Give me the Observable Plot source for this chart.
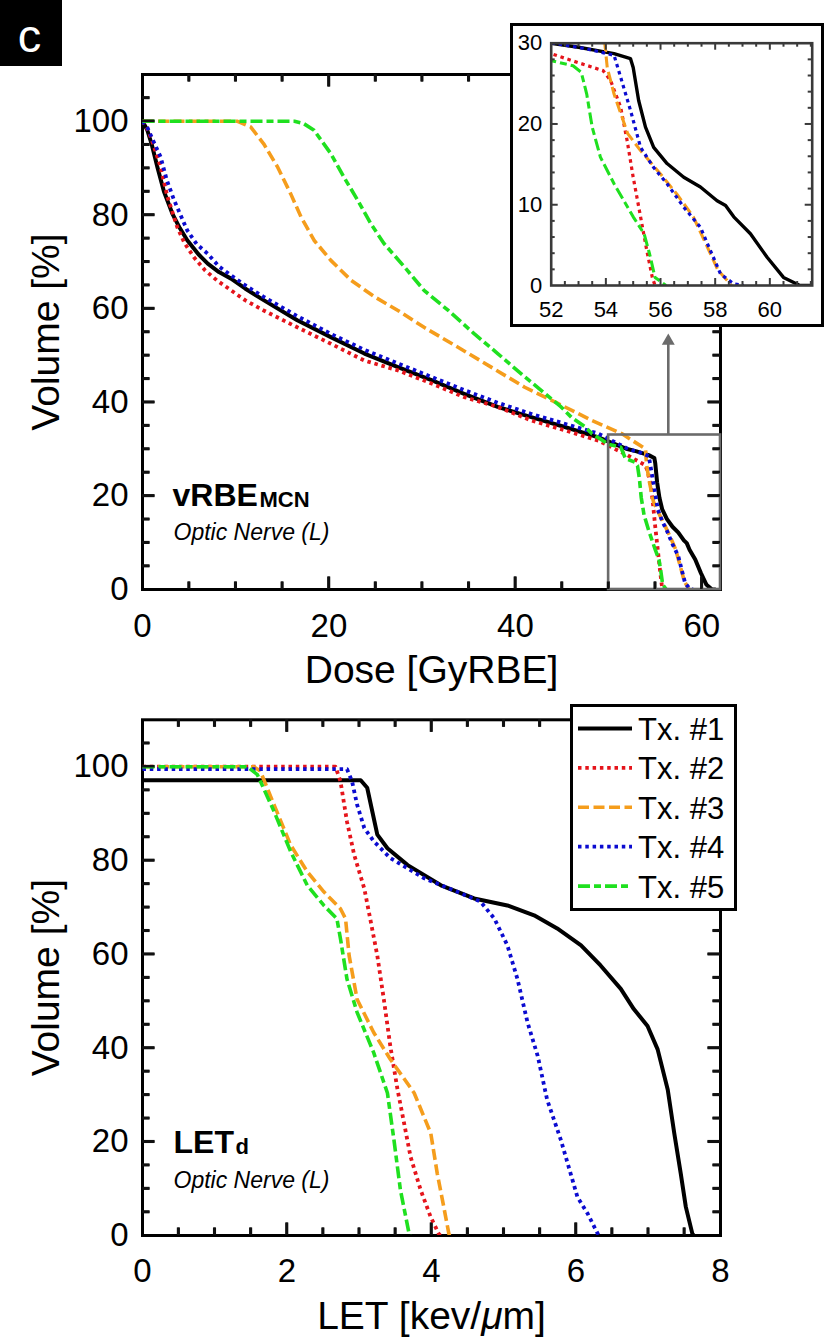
<!DOCTYPE html>
<html><head><meta charset="utf-8">
<script src="https://cdn.jsdelivr.net/npm/d3@7"></script>
<script src="https://cdn.jsdelivr.net/npm/@observablehq/plot@0.6"></script>
</head><body style="margin:0"><div id="root" style="position:relative;width:831px;height:1337px"></div>
<script>
const FONT = '"Liberation Sans", Arial, Helvetica, sans-serif';

// ---- series meta
const seriesNames = ["Tx. #1", "Tx. #2", "Tx. #3", "Tx. #4", "Tx. #5"];
const seriesColors = ["#000000", "#e5141b", "#f59d1c", "#0b0bd0", "#1fe01f"];
const seriesDash = [null, "3.5,3.8", "11,4.5", "3.5,3.8", "12,4,7,4"];
const seriesWidth = [4, 3.8, 3.6, 3.8, 3.6];

// ---- Dose-volume (vRBE_MCN), dose in GyRBE, volume in %
const doseTx1 = [0,0.5,1.0,1.6,2.3,3.2,4.0,4.8,6.0,7.0,8.2,9.5,11,13,16.6,20.2,23.8,27.4,31,34.5,38.1,41.7,45.3,48.9,52,53,54.3,54.9,55.0,55.2,55.45,55.75,56.24,56.85,57.46,58.07,58.38,58.68,59.29,59.9,60.5,61.1,61.5];
const volDoseTx1 = [100,98.2,95,90.2,85,80.3,77.2,74.6,71.6,69.6,67.8,66.4,64.3,61.8,57.5,53.9,50.4,47.5,44.7,41.8,39.0,36.8,34.7,32.5,30,29.5,28.7,28.1,27.0,22.9,19.6,17.1,15.1,13.4,12.2,10.5,9.9,8.5,6.4,3.5,1.0,0,0];
const doseTx2 = [0,0.5,1.0,1.9,2.66,3.73,4.5,5.5,6.7,8.0,9.5,11,13,16.6,20.2,23.8,27.4,31,34.5,38.1,41.7,45.3,48.9,52,52.8,53.9,54.17,54.54,54.78,55.0,55.27,55.5,55.7,55.8];
const volDoseTx2 = [100,98.5,96,90.5,84.0,77.4,74,71,68.2,66,63.9,61.8,59.6,56.0,52.5,48.9,46.8,44.0,41.1,39.0,36.1,34.0,31.8,28.7,27.8,26.6,25.4,22.1,17.9,13.4,8.5,4.3,1.0,0];
const doseTx3 = [0,10.2,11.6,13.0,14.5,15.9,17.0,18.4,20.2,22.4,24.9,27.4,30.2,33.8,37.4,41.0,44.6,48.2,51.4,53.96,54.05,54.3,54.8,55.27,56.0,56.6,57.2,57.6,58.1,58.6];
const volDoseTx3 = [100,100,98.8,95.2,90.2,84.5,79.6,74.6,70.3,66.0,62.5,59.6,56.0,51.8,47.5,43.2,39.7,36.1,33.3,30,27,23.7,18.8,16.7,13.8,11.3,8.5,5.6,1.9,0];
const doseTx4 = [0,0.5,1.0,1.94,2.6,3.4,4.8,5.8,7.0,8.2,9.5,11,13,16.6,20.2,23.8,27.4,31,34.5,38.1,41.7,45.3,48.9,52.1,53.3,54.3,54.54,54.9,55.27,55.75,56.24,56.85,57.46,57.83,58.2,58.68,59.05];
const volDoseTx4 = [100,98.8,96.5,92.4,87.5,83.1,76.7,73.8,71.7,69,67.1,65,62.5,58.4,54.6,51.2,48.3,45.4,42.6,39.9,37.5,35.4,33.3,30,29.3,28.5,25.8,21.7,17.1,14.6,12.6,9.7,7.2,4.3,1.4,0.2,0];
const doseTx5 = [0,16.3,17.3,18.4,20.2,21.6,23.1,24.5,25.9,28.1,30.2,32.8,35.6,38.1,40.6,43.2,44.9,46.0,47.5,48.2,50,51.3,51.8,52.8,53.1,53.3,53.5,53.8,54.3,55.0,55.4,55.6,55.8,56.2];
const volDoseTx5 = [100,100,99.5,98.1,93.1,88.1,83.1,78.1,73.9,68.9,63.9,59.6,54.6,50.4,46.1,41.8,39.0,36.8,34.7,33.3,31,30.4,28,27.2,26.4,23.7,19.6,15.9,12.6,8.5,6.4,3.9,1.0,0];

// ---- LET-volume, LET in keV/um, volume in %
const letTx1 = [0,3.02,3.11,3.18,3.25,3.39,3.67,4.13,4.59,5.05,5.42,5.74,6.07,6.34,6.62,6.8,6.99,7.13,7.27,7.36,7.45,7.52,7.61,7.63];
const volLetTx1 = [97.1,97.1,95.5,90.5,85.5,82.6,79.0,74.7,71.9,70.4,68.3,65.5,61.9,57.6,52.6,48.3,44.7,39.7,31.1,21.8,13.2,6.1,0.4,0];
const letTx2 = [0,2.67,2.74,2.83,2.93,3.07,3.16,3.25,3.34,3.43,3.53,3.62,3.71,3.85,3.99,4.1,4.12];
const volLetTx2 = [100,100,96.9,88.3,81.2,74.0,66.9,59.7,50.4,40.4,31.1,24.0,16.8,9.7,3.9,0.4,0];
const letTx3 = [0,1.54,1.63,1.82,2.05,2.28,2.51,2.74,2.81,2.86,2.97,3.2,3.43,3.76,3.99,4.08,4.17,4.24,4.25];
const volLetTx3 = [100,100,99.1,91.9,83.3,77.6,73.3,69.7,67.6,59.7,50.4,43.3,37.6,30.4,21.8,13.2,6.1,0.4,0];
const letTx4 = [0,2.83,2.9,2.97,3.07,3.2,3.43,3.9,4.36,4.68,4.87,5.05,5.19,5.33,5.47,5.6,5.79,6.02,6.16,6.3,6.32];
const volLetTx4 = [99.5,99.5,96.9,91.9,86.9,84.1,80.5,76.2,73.3,71.2,67.6,61.9,54.7,45.4,38.3,29.0,20.4,8.2,4.7,0.4,0];
const letTx5 = [0,1.45,1.59,1.82,2.05,2.28,2.51,2.69,2.74,2.83,2.97,3.2,3.39,3.48,3.57,3.69,3.7];
const volLetTx5 = [100,100,98.3,90.5,81.9,74.7,70.4,67.6,63.3,54.7,47.6,39.0,30.4,20.4,9.7,0.4,0];

// ---- ticks
const doseTickLabels = [0, 20, 40, 60];
const doseMajor = [20, 40, 60];
const doseMinor = [5, 10, 15, 25, 30, 35, 45, 50, 55];
const volTickLabels = [0, 20, 40, 60, 80, 100];
const volMajor = [20, 40, 60, 80, 100];
const volMinor = [5, 10, 15, 25, 30, 35, 45, 50, 55, 65, 70, 75, 85, 90, 95, 105];
const letTickLabels = [0, 2, 4, 6, 8];
const letMajor = [2, 4, 6];
const letMinor = [0.5, 1, 1.5, 2.5, 3, 3.5, 4.5, 5, 5.5, 6.5, 7, 7.5];
const insetXLabels = [52, 54, 56, 58, 60];
const insetXMajor = [54, 56, 58, 60];
const insetXMinor = [52.5, 53, 53.5, 54.5, 55, 55.5, 56.5, 57, 57.5, 58.5, 59, 59.5, 60.5, 61, 61.5];
const insetYLabels = [0, 10, 20, 30];
const insetYMajor = [10, 20];
const insetYMinor = [2, 4, 6, 8, 12, 14, 16, 18, 22, 24, 26, 28];

// ---- zoom annotation (region of the inset)
const zoomBoxX = [50, 62];
const zoomBoxY = [0, 33];
const arrowX = [56.4];
const arrowTipY = [53.1];

const doseDomain = [0, 62], volDomain = [0, 110], letDomain = [0, 8];
const insetXDomain = [52, 61.55], insetYDomain = [0, 30];

const toRows = (xs, ys) => xs.map((x, i) => ({x, y: ys[i]}));
const doseData = [toRows(doseTx1, volDoseTx1), toRows(doseTx2, volDoseTx2), toRows(doseTx3, volDoseTx3), toRows(doseTx4, volDoseTx4), toRows(doseTx5, volDoseTx5)];
const letData = [toRows(letTx1, volLetTx1), toRows(letTx2, volLetTx2), toRows(letTx3, volLetTx3), toRows(letTx4, volLetTx4), toRows(letTx5, volLetTx5)];

function lineMarks(sets, scaleW = 1) {
  return sets.map((d, i) => Plot.line(d, {
    x: "x", y: "y", stroke: seriesColors[i], strokeWidth: seriesWidth[i] * scaleW,
    strokeDasharray: seriesDash[i] || undefined, strokeLinejoin: "round", strokeLinecap: "butt",
    clip: true
  }));
}
// inward ticks on all four sides; lengths given in pixels, converted to data units
function frameTicks(xMaj, xMin, yMaj, yMin, xDom, yDom, innerW, innerH, lMaj, lMin, stroke, sw) {
  const kx = (xDom[1] - xDom[0]) / innerW, ky = (yDom[1] - yDom[0]) / innerH;
  const o = {stroke, strokeWidth: sw};
  const marks = [];
  for (const [xs, L] of [[xMaj, lMaj], [xMin, lMin]]) {
    marks.push(Plot.ruleX(xs, {...o, x: d => d, y1: () => yDom[0], y2: () => yDom[0] + L * ky}));
    marks.push(Plot.ruleX(xs, {...o, x: d => d, y1: () => yDom[1], y2: () => yDom[1] - L * ky}));
  }
  for (const [ys, L] of [[yMaj, lMaj], [yMin, lMin]]) {
    marks.push(Plot.ruleY(ys, {...o, y: d => d, x1: () => xDom[0], x2: () => xDom[0] + L * kx}));
    marks.push(Plot.ruleY(ys, {...o, y: d => d, x1: () => xDom[1], x2: () => xDom[1] - L * kx}));
  }
  return marks;
}
// same ticks drawn through the plot's own scales (backup layer)
function scaleTicks(svg, xMaj, xMin, yMaj, yMin, lMaj, lMin, stroke, sw) {
  const sx = svg.scale("x"), sy = svg.scale("y");
  const xr = sx.range, yr = sy.range;
  const left = Math.min(...xr), right = Math.max(...xr), top = Math.min(...yr), bottom = Math.max(...yr);
  const g = d3.select(svg).append("g").attr("stroke", stroke).attr("stroke-width", sw);
  for (const [xs, L] of [[xMaj, lMaj], [xMin, lMin]]) for (const v of xs) {
    const px = sx.apply(v);
    g.append("line").attr("x1", px).attr("x2", px).attr("y1", bottom).attr("y2", bottom - L);
    g.append("line").attr("x1", px).attr("x2", px).attr("y1", top).attr("y2", top + L);
  }
  for (const [ys, L] of [[yMaj, lMaj], [yMin, lMin]]) for (const v of ys) {
    const py = sy.apply(v);
    g.append("line").attr("y1", py).attr("y2", py).attr("x1", left).attr("x2", left + L);
    g.append("line").attr("y1", py).attr("y2", py).attr("x1", right).attr("x2", right - L);
  }
}

const root = document.getElementById("root");
function place(el, left, top) {
  const wrap = document.createElement("div");
  wrap.style.cssText = `position:absolute;left:${left}px;top:${top}px;`;
  wrap.appendChild(el);
  root.appendChild(wrap);
  return wrap;
}
function sub(mainText, subText, dxMain, dxSub, dyMain, dySub, mainSize, subSize) {
  return [
    Plot.text([mainText], {text: d => d, frameAnchor: "bottom-left", textAnchor: "start", lineAnchor: "bottom", dx: dxMain, dy: dyMain, fontSize: mainSize, fontWeight: "bold"}),
    Plot.text([subText], {text: d => d, frameAnchor: "bottom-left", textAnchor: "start", lineAnchor: "bottom", dx: dxSub, dy: dySub, fontSize: subSize, fontWeight: "bold"})
  ];
}

function chart({W, H, mL, mR, mT, mB, xDom, yDom, xLabels, yLabels, xMaj, xMin, yMaj, yMin, xPad, yPad, content, extra = []}) {
  const svg = Plot.plot({
    width: W, height: H, marginLeft: mL, marginRight: mR, marginTop: mT, marginBottom: mB,
    style: {fontFamily: FONT, fontSize: "33px", color: "black", background: "white"},
    x: {domain: xDom, ticks: xLabels, tickSize: 0, tickPadding: xPad, label: null},
    y: {domain: yDom, ticks: yLabels, tickSize: 0, tickPadding: yPad, label: null},
    marks: [
      Plot.frame({stroke: "#000", strokeWidth: 3}),
      ...frameTicks(xMaj, xMin, yMaj, yMin, xDom, yDom, W - mL - mR, H - mT - mB, 12.5, 7.5, "#111", 2.6),
      ...content,
      ...extra
    ]
  });
  scaleTicks(svg, xMaj, xMin, yMaj, yMin, 12.5, 7.5, "#111", 2.6);
  return svg;
}

// ---- Top chart
const gray = "#6b6b6b";
const topPlot = chart({
  W: 831, H: 700, mL: 142, mR: 111, mT: 74, mB: 111,
  xDom: doseDomain, yDom: volDomain, xLabels: doseTickLabels, yLabels: volTickLabels,
  xMaj: doseMajor, xMin: doseMinor, yMaj: volMajor, yMin: volMinor, xPad: 24, yPad: 14,
  content: [
    ...lineMarks(doseData),
    ...sub("vRBE", "MCN", 30, 117, -84, -83, 32, 22),
    Plot.text(["Optic Nerve (L)"], {text: d => d, frameAnchor: "bottom-left", textAnchor: "start", lineAnchor: "bottom", dx: 31, dy: -50, fontSize: 23, fontStyle: "italic"}),
    Plot.text(["Dose [GyRBE]"], {text: d => d, frameAnchor: "bottom", textAnchor: "middle", lineAnchor: "bottom", dy: 93, fontSize: 39}),
    Plot.text(["Volume [%]"], {text: d => d, frameAnchor: "left", textAnchor: "middle", lineAnchor: "middle", rotate: -90, dx: -96, fontSize: 39})
  ],
  extra: [
    Plot.rect([0], {x1: () => zoomBoxX[0], x2: () => zoomBoxX[1], y1: () => zoomBoxY[0], y2: () => zoomBoxY[1], fill: "none", stroke: gray, strokeWidth: 2.6}),
    Plot.ruleX(arrowX, {x: d => d, y1: () => zoomBoxY[1], y2: () => arrowTipY[0], stroke: gray, strokeWidth: 2.6}),
    Plot.dot(arrowX, {x: d => d, y: () => arrowTipY[0], symbol: "triangle", r: 4.8, fill: gray, stroke: "none"})
  ]
});
place(topPlot, 0, 0);

// ---- Bottom chart
const botPlot = chart({
  W: 831, H: 637, mL: 142, mR: 111, mT: 19.3, mB: 102,
  xDom: letDomain, yDom: volDomain, xLabels: letTickLabels, yLabels: volTickLabels,
  xMaj: letMajor, xMin: letMinor, yMaj: volMajor, yMin: volMinor, xPad: 23, yPad: 14,
  content: [
    ...lineMarks(letData),
    ...sub("LET", "d", 31, 93, -83, -82, 32, 22),
    Plot.text(["Optic Nerve (L)"], {text: d => d, frameAnchor: "bottom-left", textAnchor: "start", lineAnchor: "bottom", dx: 31, dy: -48, fontSize: 23, fontStyle: "italic"}),
    Plot.text(["LET [kev/μm]"], {text: d => d, frameAnchor: "bottom", textAnchor: "middle", lineAnchor: "bottom", dy: 93, fontSize: 39}),
    Plot.text(["Volume [%]"], {text: d => d, frameAnchor: "left", textAnchor: "middle", lineAnchor: "middle", rotate: -90, dx: -96, fontSize: 39})
  ]
});
place(botPlot, 0, 700);
// italic mu in the LET axis title
d3.select(botPlot).selectAll("text").each(function () {
  if (this.textContent === "LET [kev/μm]") {
    const t = d3.select(this); t.text(null);
    t.append("tspan").text("LET [kev/");
    t.append("tspan").attr("font-style", "italic").text("μ");
    t.append("tspan").text("m]");
  }
});

// ---- Inset
const inW = 308, inH = 298, iML = 37.7, iMR = 9.3, iMT = 16.7, iMB = 39;
const inset = Plot.plot({
  width: inW, height: inH, marginLeft: iML, marginRight: iMR, marginTop: iMT, marginBottom: iMB,
  style: {fontFamily: FONT, fontSize: "22px", color: "black", background: "white"},
  x: {domain: insetXDomain, ticks: insetXLabels, tickSize: 0, tickPadding: 16, label: null},
  y: {domain: insetYDomain, ticks: insetYLabels, tickSize: 0, tickPadding: 9, label: null},
  marks: [
    ...lineMarks(doseData, 0.85),
    Plot.frame({stroke: "#3a3a3a", strokeWidth: 2.6}),
    ...frameTicks(insetXMajor, insetXMinor, insetYMajor, insetYMinor, insetXDomain, insetYDomain, inW - iML - iMR, inH - iMT - iMB, 7, 4, "#3a3a3a", 2)
  ]
});
const insetBox = document.createElement("div");
insetBox.style.cssText = "width:314px;height:304px;box-sizing:border-box;border:3px solid #000;background:#fff;";
insetBox.appendChild(inset);
place(insetBox, 510, 23);

// ---- Legend
const legBox = document.createElement("div");
legBox.style.cssText = "width:167px;height:207px;box-sizing:border-box;border:3px solid #000;background:#fff;";
place(legBox, 570, 704);
const lsvg = d3.select(legBox).append("svg").attr("width", 161).attr("height", 201).style("display", "block");
seriesNames.forEach((name, i) => {
  const cy = 21.5 + i * 39.4;
  lsvg.append("line").attr("x1", 5).attr("x2", 59).attr("y1", cy).attr("y2", cy)
    .attr("stroke", seriesColors[i]).attr("stroke-width", seriesWidth[i])
    .attr("stroke-dasharray", seriesDash[i] || null);
  lsvg.append("text").attr("x", 65).attr("y", cy + 11.5).attr("font-family", FONT)
    .attr("font-size", 31).attr("fill", "black").text(name);
});

// ---- Panel label
const panelLabel = document.createElement("div");
panelLabel.style.cssText = "width:62px;height:66px;background:#000;";
place(panelLabel, 0, 0);
d3.select(panelLabel).append("svg").attr("width", 62).attr("height", 66).style("display", "block")
  .append("text").attr("x", 29.5).attr("y", 51.5).attr("text-anchor", "middle")
  .attr("font-family", FONT).attr("font-size", 47).attr("fill", "white").text("c");
</script>
</body></html>
